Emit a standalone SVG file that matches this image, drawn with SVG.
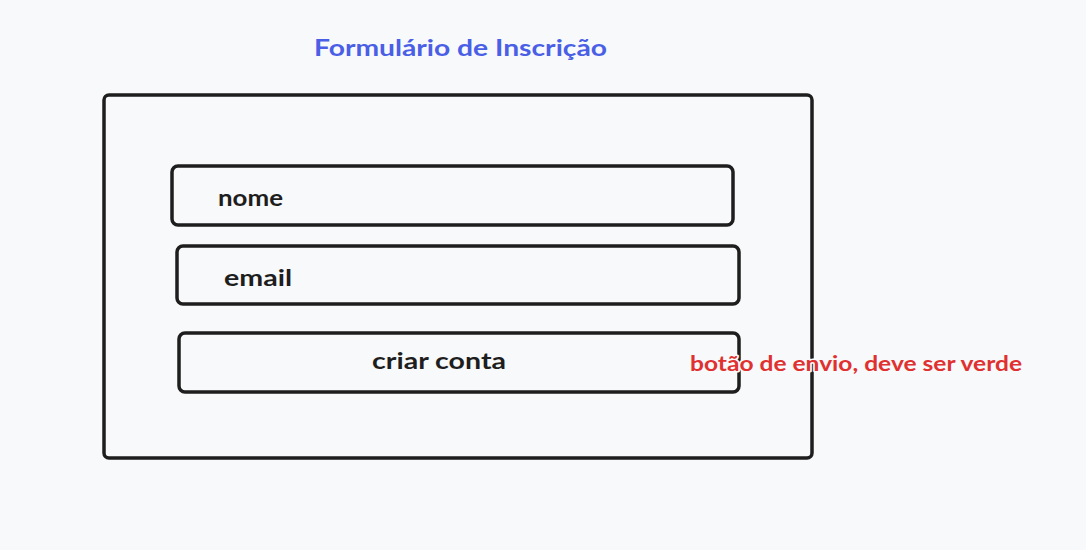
<svg xmlns="http://www.w3.org/2000/svg" width="1086" height="550" viewBox="0 0 1086 550">
<style>
.box{fill:none;stroke:#1e1e1e;stroke-width:3.5;stroke-linejoin:round}
.t{font-family:"Lato","Liberation Sans",sans-serif;font-weight:bold;paint-order:stroke;stroke:#f8f9fa;stroke-width:3;stroke-linejoin:round}
.dark{fill:#1e1e1e;font-size:22px}
</style>
<rect width="1086" height="550" fill="#f8f9fa"/>
<g id="title"><text class="t" x="314" y="56" font-size="22" fill="#4a5fe6" textLength="293" lengthAdjust="spacingAndGlyphs">Formulário de Inscrição</text></g>
<g id="form"><rect class="box" x="104" y="95" width="708" height="363" rx="5"/></g>
<g id="nome"><rect class="box" x="172" y="166" width="561" height="59" rx="6"/><text class="t dark" x="218" y="206" textLength="65" lengthAdjust="spacingAndGlyphs">nome</text></g>
<g id="email"><rect class="box" x="177" y="246" width="562" height="58" rx="6"/><text class="t dark" x="224" y="286" textLength="68" lengthAdjust="spacingAndGlyphs">email</text></g>
<g id="criar"><rect class="box" x="179" y="333" width="560" height="59" rx="6"/><text class="t dark" x="372" y="369" textLength="134" lengthAdjust="spacingAndGlyphs">criar conta</text></g>
<g id="nota"><text class="t" x="690" y="371" font-size="20" fill="#e03131" textLength="332" lengthAdjust="spacingAndGlyphs">botão de envio, deve ser verde</text></g>
<g id="connectors"/>
</svg>
